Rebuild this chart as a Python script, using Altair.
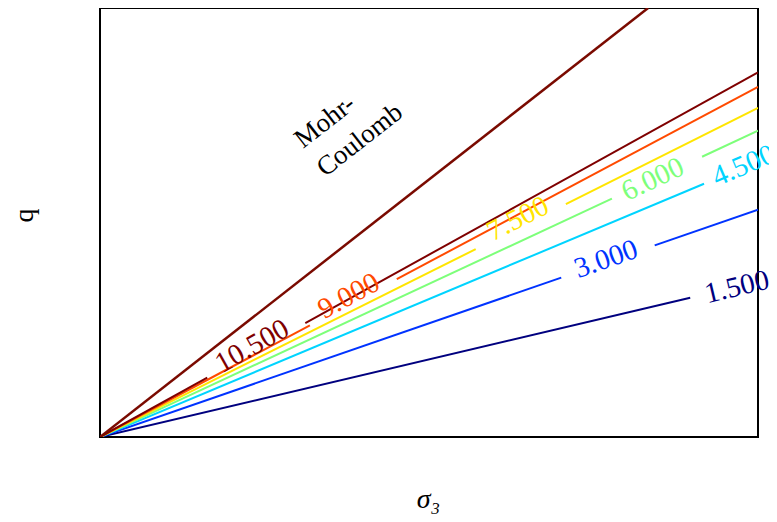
import altair as alt
import pandas as pd

# contour levels and their straight iso-lines (q reached at sigma3 = 1)
levels = [1.5, 3.0, 4.5, 6.0, 7.5, 9.0, 10.5]
level_labels = ["1.500", "3.000", "4.500", "6.000", "7.500", "9.000", "10.500"]
q_at_unit = [0.362, 0.530, 0.643, 0.714, 0.767, 0.816, 0.850]
colors = ["#00007f", "#0033ff", "#00d4ff", "#7dff7a", "#ffe500", "#ff4a00", "#7f0000"]
# visible pieces of each contour (sigma3 ranges, gaps hold the labels)
segments = [
    [[0.0, 0.897]],
    [[0.0, 0.701], [0.843, 1.0]],
    [[0.0, 0.918]],
    [[0.0, 0.778], [0.915, 1.0]],
    [[0.0, 0.571], [0.708, 1.0]],
    [[0.0, 0.319], [0.451, 1.0]],
    [[0.0, 0.163], [0.312, 1.0]],
]
label_x = [0.968, 0.769, 0.978, 0.840, 0.635, 0.378, 0.231]
label_y = [0.350, 0.415, 0.633, 0.601, 0.509, 0.329, 0.212]
label_angle = [346.6, 340.7, 337.0, 334.8, 333.2, 331.7, 330.7]

# Mohr-Coulomb limit line
mc_x = [0.0, 0.833]
mc_q = [0.0, 1.0]
mc_text_x = [0.301]
mc_text_y = [0.686]

rows = []
for lev, slope, segs in zip(level_labels, q_at_unit, segments):
    for i, (a, b) in enumerate(segs):
        for xv in (a, b):
            rows.append({"level": lev, "seg": f"{lev}-{i}", "s3": xv, "q": slope * xv})
lines_df = pd.DataFrame(rows)
labels_df = pd.DataFrame({"level": level_labels, "s3": label_x, "q": label_y, "angle": label_angle})
mc_df = pd.DataFrame({"s3": mc_x, "q": mc_q})
mc_txt = pd.DataFrame({"s3": mc_text_x, "q": mc_text_y, "t": ["Mohr-\nCoulomb"]})

FONT = "Liberation Serif"
xs = alt.Scale(domain=[0, 1], nice=False, zero=False)
ys = alt.Scale(domain=[0, 1], nice=False, zero=False)
cs = alt.Scale(domain=level_labels, range=colors)

xaxis = alt.Axis(title="σ₃", labels=False, ticks=False, domain=False, grid=False,
                 titleFont=FONT, titleFontSize=28, titleFontWeight="normal", titleFontStyle="italic",
                 titleX=328, titleY=62, titleAlign="center", titleBaseline="middle", titleColor="black")
yaxis = alt.Axis(title="q", labels=False, ticks=False, domain=False, grid=False,
                 titleFont=FONT, titleFontSize=28, titleFontWeight="normal",
                 titleX=-76, titleY=207, titleAlign="center", titleBaseline="middle", titleColor="black")

lines = alt.Chart(lines_df).mark_line(strokeWidth=2, clip=True).encode(
    x=alt.X("s3:Q", scale=xs, axis=xaxis),
    y=alt.Y("q:Q", scale=ys, axis=yaxis),
    color=alt.Color("level:N", scale=cs, legend=None),
    detail="seg:N",
)

mc = alt.Chart(mc_df).mark_line(strokeWidth=2.5, color="#7a0a00", clip=True).encode(
    x=alt.X("s3:Q", scale=xs), y=alt.Y("q:Q", scale=ys)
)

labels = alt.Chart(labels_df).mark_text(font=FONT, fontSize=29, align="center", baseline="middle").encode(
    x=alt.X("s3:Q", scale=xs), y=alt.Y("q:Q", scale=ys),
    text="level:N",
    color=alt.Color("level:N", scale=cs, legend=None),
    angle=alt.Angle("angle:Q", scale=None),
)

mc_label = alt.Chart(mc_txt).mark_text(font=FONT, fontSize=27, align="left", baseline="middle",
                                       angle=322, lineBreak="\n", lineHeight=36, color="black").encode(
    x=alt.X("s3:Q", scale=xs), y=alt.Y("q:Q", scale=ys), text="t:N"
)

chart = alt.layer(lines, mc, labels, mc_label).properties(
    width=658, height=429,
    autosize=alt.AutoSizeParams(type="none"),
    padding={"left": 92, "top": 0, "right": 11, "bottom": 77},
).configure_view(stroke="black", strokeWidth=2)

chart.save("out.html", embed_options={"renderer": "svg", "actions": False})
